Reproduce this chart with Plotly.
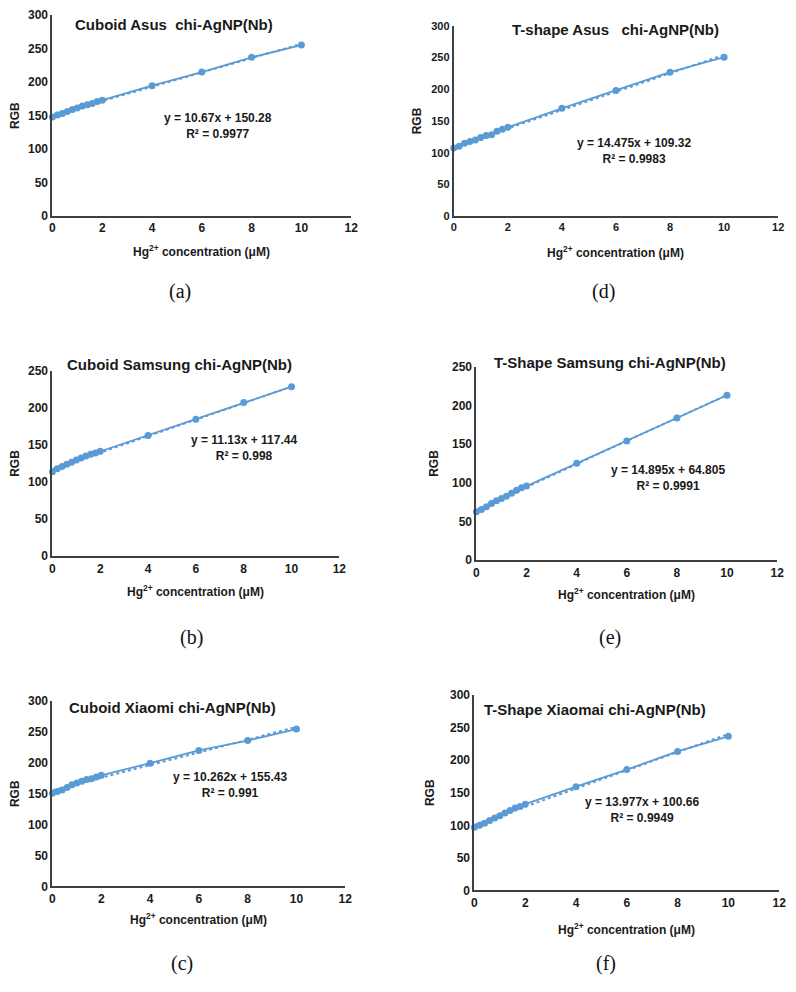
import plotly.graph_objects as go

# the page body has an 8px margin, so the figure is shifted by OFF
OFF = 8
W, H = 796 - OFF, 992 - OFF

x_conc = [0, 0.2, 0.4, 0.6, 0.8, 1.0, 1.2, 1.4, 1.6, 1.8, 2.0, 4, 6, 8, 10]

rgb_a = [147.8, 150.7, 153, 156, 159, 161.4, 164.3, 166, 168, 171, 173, 194.5, 214.9, 236.8, 255.2]
rgb_b = [113.9, 117.9, 121, 124, 126.8, 129.9, 132.5, 135.2, 137.4, 139.2, 141.4, 162.7, 184.8, 207.4, 228.7]
rgb_c = [151, 153.7, 155.9, 160, 164.4, 167.6, 170.2, 172.9, 174.5, 177, 179.8, 199.5, 220.2, 236.2, 254.8]
rgb_d = [107.5, 110, 115, 117.5, 120, 123.8, 126.9, 128.4, 133.6, 136.8, 140, 170, 198, 227, 250.6]
rgb_e = [62.6, 65.6, 69, 73.3, 76.7, 79.6, 82.6, 86.5, 90.3, 93.7, 95.8, 125.2, 154.2, 184, 213.4]
rgb_f = [97.1, 100.2, 103.2, 107.2, 111.3, 114.8, 118.9, 122.9, 126.5, 129, 132.5, 159.3, 185.6, 213.5, 236.7]

titles = ["Cuboid Asus  chi-AgNP(Nb)", "Cuboid Samsung chi-AgNP(Nb)", "Cuboid Xiaomi chi-AgNP(Nb)",
          "T-shape Asus   chi-AgNP(Nb)", "T-Shape Samsung chi-AgNP(Nb)", "T-Shape Xiaomai chi-AgNP(Nb)"]
slopes = [10.67, 11.13, 10.262, 14.475, 14.895, 13.977]
intercepts = [150.28, 117.44, 155.43, 109.32, 64.805, 100.66]
r2_labels = ["0.9977", "0.998", "0.991", "0.9983", "0.9991", "0.9949"]
panel_labels = ["(a)", "(b)", "(c)", "(d)", "(e)", "(f)"]
y_max = [300, 250, 300, 300, 250, 300]
x_ticks = [0, 2, 4, 6, 8, 10, 12]

series = [rgb_a, rgb_b, rgb_c, rgb_d, rgb_e, rgb_f]

# layout geometry (page pixels): x0, x1, ytop, ybottom
boxes = [(49, 352, 8, 212), (49, 340, 369, 557), (49, 346, 704, 892),
         (456, 785, 19, 212), (479, 784, 365, 561), (477, 786, 698, 896)]
eq_pos = [(0.554, 0.45), (0.669, 0.585), (0.605, 0.545),
          (0.556, 0.34), (0.637, 0.426), (0.55, 0.41)]
title_pos = [(172, 18), (178, 363), (171, 711), (620, 23), (614, 361), (599, 713)]
label_pos = [(178, 288), (190, 639), (180, 970), (608, 288), (614, 639), (610, 970)]
xtitle_y = [247, 592, 925, 248, 595, 935]
tick_sizes = [12, 12, 12, 11, 12, 12]
rgb_standoff = [12, 12, 12, 7, 11, 13]


def px(v):
    return min(1.0, max(0.0, (v - OFF) / W))


def py(v):
    return min(1.0, max(0.0, 1 - (v - OFF) / H))


BLUE = "#5B9BD5"
AX = "#404040"
TXT = "#1a1a1a"
FONT = "Liberation Sans"

fig = go.Figure()
annotations = []

for i in range(6):
    n = i + 1
    xa = "x" if n == 1 else f"x{n}"
    ya = "y" if n == 1 else f"y{n}"
    x0, x1, yt, yb = boxes[i]
    # trendline
    tx = [x_conc[0], x_conc[-1]]
    ty = [slopes[i] * v + intercepts[i] for v in tx]
    fig.add_trace(go.Scatter(x=tx, y=ty, mode="lines", xaxis=xa, yaxis=ya,
                             line=dict(color=BLUE, width=2, dash="dot"),
                             showlegend=False, hoverinfo="skip"))
    fig.add_trace(go.Scatter(x=x_conc, y=series[i], mode="lines+markers", xaxis=xa, yaxis=ya,
                             line=dict(color=BLUE, width=1.8),
                             marker=dict(color=BLUE, size=7),
                             showlegend=False, cliponaxis=False))
    xkey = "xaxis" if n == 1 else f"xaxis{n}"
    ykey = "yaxis" if n == 1 else f"yaxis{n}"
    tf = dict(family=FONT, size=tick_sizes[i], color=TXT, weight="bold")
    fig.update_layout(**{
        xkey: dict(domain=[px(x0), px(x1)], anchor=ya, range=[0, 12],
                   tickvals=x_ticks, showgrid=False, zeroline=False,
                   showline=True, linecolor=AX, linewidth=2, ticks="",
                   tickfont=tf, ticklabeloverflow="allow"),
        ykey: dict(domain=[py(yb), py(yt)], anchor=xa, range=[0, y_max[i]],
                   dtick=50, showgrid=False, zeroline=False,
                   showline=True, linecolor=AX, linewidth=2, ticks="",
                   tickfont=tf, ticklabeloverflow="allow",
                   title=dict(text="<b>RGB</b>", font=dict(family=FONT, size=12, color=TXT),
                              standoff=rgb_standoff[i])),
    })
    annotations.append(dict(x=px((x0 + x1) / 2), y=py(xtitle_y[i]), xref="paper", yref="paper",
                            text="<b>Hg<sup>2+</sup> concentration (μM)</b>", showarrow=False,
                            font=dict(family=FONT, size=12, color=TXT),
                            xanchor="center", yanchor="middle"))
    ex, ey = eq_pos[i]
    annotations.append(dict(x=ex, y=ey, xref=f"{xa} domain", yref=f"{ya} domain",
                            text=f"<b>y = {slopes[i]}x + {intercepts[i]}<br>R² = {r2_labels[i]}</b>",
                            showarrow=False, align="center",
                            font=dict(family=FONT, size=12, color=TXT),
                            xanchor="center", yanchor="middle"))
    tx_, ty_ = title_pos[i]
    annotations.append(dict(x=px(tx_), y=py(ty_), xref="paper", yref="paper",
                            text=f"<b>{titles[i]}</b>", showarrow=False,
                            font=dict(family=FONT, size=15, color=TXT),
                            xanchor="center", yanchor="middle"))
    lx, ly = label_pos[i]
    annotations.append(dict(x=px(lx), y=py(ly), xref="paper", yref="paper",
                            text=panel_labels[i], showarrow=False,
                            font=dict(family="Liberation Serif", size=20, color="#111"),
                            xanchor="center", yanchor="middle"))

fig.update_layout(width=W, height=H, margin=dict(l=0, r=0, t=0, b=0),
                  paper_bgcolor="white", plot_bgcolor="white",
                  annotations=annotations)

fig.write_html("out.html")
